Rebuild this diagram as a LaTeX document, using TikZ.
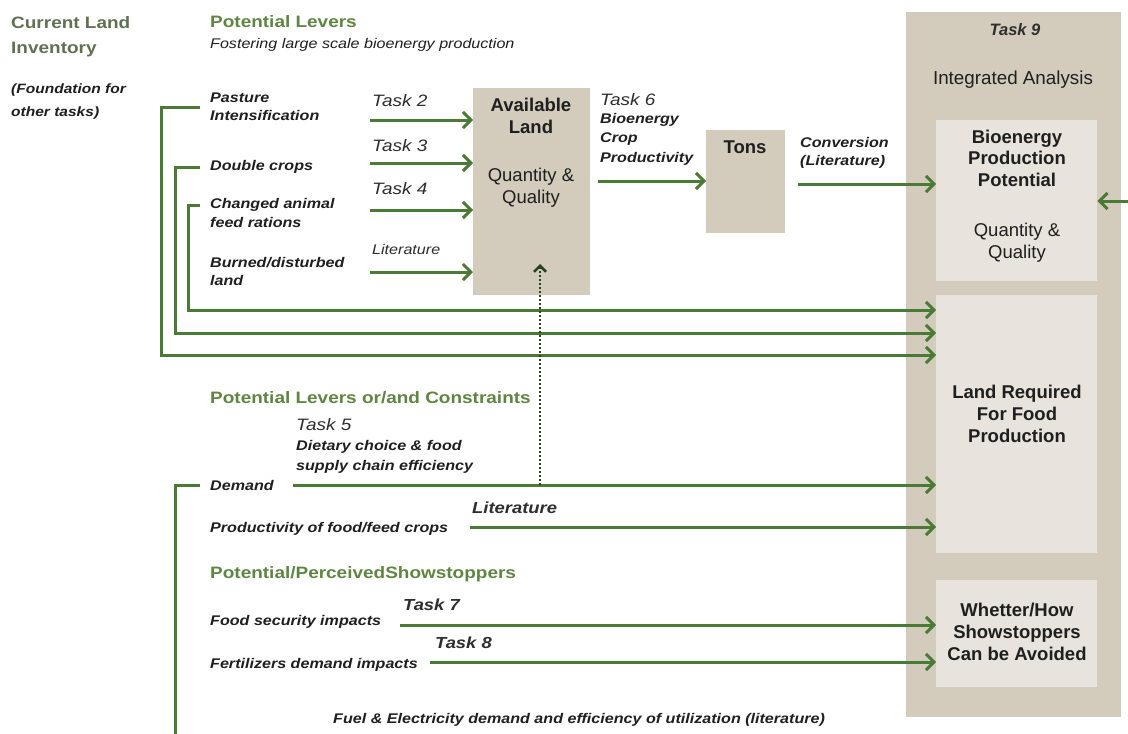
\documentclass[tikz,border=0pt]{standalone}
\usepackage{fontspec}
\setmainfont{Liberation Sans}
\newfontfamily\wide[FakeStretch=1.15]{Liberation Sans}
\usetikzlibrary{arrows.meta}
\definecolor{arrgreen}{HTML}{4A7A36}
\definecolor{hdrgreen}{HTML}{5E8642}
\definecolor{grgreen}{HTML}{5F7150}
\definecolor{tanbox}{HTML}{D3CCBD}
\definecolor{palebox}{HTML}{E8E3DC}
\definecolor{ink}{HTML}{1F1F1F}
\definecolor{taskink}{HTML}{2E2E2E}
\begin{document}
\begin{tikzpicture}[x=1pt,y=-1pt,
  arr/.style={draw=arrgreen, line width=3pt, -{Straight Barb[length=8pt,width=16pt]}},
  larr/.style={draw=arrgreen, line width=3pt, {Straight Barb[length=8pt,width=16pt]}-},
  brk/.style={draw=arrgreen, line width=3pt},
  dotarr/.style={draw=arrgreen!55!black, line width=2.5pt, dash pattern=on 2pt off 2pt, -{Straight Barb[length=6pt,width=12pt]}},
  bigbox/.style={fill=tanbox, draw=none, anchor=north west, inner sep=0},
  tanrect/.style={fill=tanbox, draw=none, anchor=north west, inner sep=0},
  inbox/.style={fill=palebox, draw=none, anchor=north west, inner sep=0},
  hdr/.style={font=\wide\bfseries\fontsize{16.5}{25}\selectfont, text=hdrgreen, inner sep=0, anchor=base west, align=left},
  lab/.style={font=\wide\bfseries\itshape\fontsize{14}{18.5}\selectfont, text=ink, inner sep=0, anchor=base west, align=left},
  task/.style={font=\wide\itshape\fontsize{16.5}{19}\selectfont, text=taskink, inner sep=0, anchor=base west},
  btask/.style={font=\wide\bfseries\itshape\fontsize{16}{19}\selectfont, text=taskink, inner sep=0, anchor=base west},
  lit/.style={font=\wide\itshape\fontsize{14}{19}\selectfont, text=taskink, inner sep=0, anchor=base west},
  btitle/.style={font=\bfseries\fontsize{18.5}{21.7}\selectfont, text=ink, inner sep=0, anchor=base, align=center},
  bsub/.style={font=\fontsize{18.5}{22.5}\selectfont, text=ink, inner sep=0, anchor=base, align=center}
]
\useasboundingbox (0,0) rectangle (1128,734);
\fill[white] (0,0) rectangle (1128,734);

% ---------- boxes ----------
\node[bigbox, minimum width=215, minimum height=705] (task9) at (906,12) {};
\node[inbox, minimum width=161, minimum height=161] (bio) at (936,120) {};
\node[inbox, minimum width=161, minimum height=258] (landreq) at (936,295) {};
\node[inbox, minimum width=161, minimum height=107] (whet) at (936,580) {};
\node[tanrect, minimum width=117, minimum height=207] (avail) at (473,88) {};
\node[tanrect, minimum width=79, minimum height=103] (tons) at (706,130) {};

% ---------- box texts (base = last line) ----------
\node[font=\bfseries\itshape\fontsize{16.5}{18}\selectfont, text=taskink, inner sep=0, anchor=base] (t9) at (1015,35) {Task 9};
\node[font=\fontsize{18.8}{20}\selectfont, text=ink, inner sep=0, anchor=base] (ia) at (1013,84) {Integrated Analysis};
\node[btitle] (biot) at (1017,186.4) {Bioenergy\\Production\\Potential};
\node[bsub] (bios) at (1017,258.5) {Quantity \&\\Quality};
\node[btitle] (lrt) at (1017,442) {Land Required\\For Food\\Production};
\node[btitle] (wht) at (1017,660) {Whetter/How\\Showstoppers\\Can be Avoided};
\node[btitle] (avt) at (531,133) {Available\\Land};
\node[bsub] (avs) at (531,203.5) {Quantity \&\\Quality};
\node[btitle] (tonst) at (745,153) {Tons};

% ---------- headers ----------
\node[hdr, text=grgreen] (cli) at (11,53) {Current Land\\Inventory};
\node[lab, font=\wide\bfseries\itshape\fontsize{13.5}{23}\selectfont] (found) at (11,116) {(Foundation for\\other tasks)};
\node[hdr] (pl) at (210,27) {Potential Levers};
\node[lab, font=\wide\itshape\fontsize{14}{15}\selectfont] (fost) at (210,48) {Fostering large scale bioenergy production};
\node[hdr] (plc) at (210,403) {Potential Levers or/and Constraints};
\node[hdr] (pps) at (210,578) {Potential/PerceivedShowstoppers};

% ---------- lever labels ----------
\node[lab] (past) at (210,120.5) {Pasture\\Intensification};
\node[lab] (dbl) at (210,170) {Double crops};
\node[lab] (cha) at (210,227) {Changed animal\\feed rations};
\node[lab] (bur) at (210,285.5) {Burned/disturbed\\land};
\node[task] (t2) at (372,106) {Task 2};
\node[task] (t3) at (372,151) {Task 3};
\node[task] (t4) at (372,194) {Task 4};
\node[lit] (lit1) at (372,254) {Literature};
\node[task] (t6) at (600,105) {Task 6};
\node[lab, font=\wide\bfseries\itshape\fontsize{14}{19.5}\selectfont] (bcp) at (600,162) {Bioenergy\\Crop\\Productivity};
\node[lab] (conv) at (800,165.5) {Conversion\\(Literature)};

\node[task] (t5) at (296,430) {Task 5};
\node[lab, font=\wide\bfseries\itshape\fontsize{14}{20}\selectfont] (diet) at (296,470) {Dietary choice \& food\\supply chain efficiency};
\node[lab] (dem) at (210,490) {Demand};
\node[btask] (lit2) at (472,513) {Literature};
\node[lab] (prod) at (210,532) {Productivity of food/feed crops};
\node[btask] (t7) at (403,610) {Task 7};
\node[lab] (food) at (210,625) {Food security impacts};
\node[btask] (t8) at (435,648) {Task 8};
\node[lab] (fert) at (210,668) {Fertilizers demand impacts};
\node[lab] (fuel) at (333,723) {Fuel \& Electricity demand and efficiency of utilization (literature)};

% ---------- coordinates ----------
\coordinate (a2) at (370,120);
\coordinate (a3) at (370,163);
\coordinate (a4) at (370,210);
\coordinate (a5) at (370,272);
\coordinate (a6) at (598,181);
\coordinate (a7) at (798,184);
\coordinate (rin) at (1128,201);
\coordinate (b1) at (200,107);
\coordinate (b1c) at (161,107);
\coordinate (b1d) at (161,355);
\coordinate (b2) at (200,167);
\coordinate (b2c) at (175,167);
\coordinate (b2d) at (175,333);
\coordinate (b3) at (200,205);
\coordinate (b3c) at (188,205);
\coordinate (b3d) at (188,310);
\coordinate (b4) at (200,485);
\coordinate (b4c) at (175,485);
\coordinate (b4d) at (175,734);
\coordinate (dm) at (293,485);
\coordinate (pr) at (470,527);
\coordinate (fs) at (400,625);
\coordinate (fd) at (430,662);
\coordinate (dot0) at (540,485);
\coordinate (dot1) at (540,264);

% ---------- arrows ----------
\draw[arr] (a2) -- (avail.west |- a2);
\draw[arr] (a3) -- (avail.west |- a3);
\draw[arr] (a4) -- (avail.west |- a4);
\draw[arr] (a5) -- (avail.west |- a5);
\draw[arr] (a6) -- (tons.west |- a6);
\draw[arr] (a7) -- (bio.west |- a7);
\draw[larr] (bio.east |- rin) -- (rin);

\draw[arr] (b1) -- (b1c) -- (b1d) -- (landreq.west |- b1d);
\draw[arr] (b2) -- (b2c) -- (b2d) -- (landreq.west |- b2d);
\draw[arr] (b3) -- (b3c) -- (b3d) -- (landreq.west |- b3d);
\draw[brk] (b4) -- (b4c) -- (b4d);

\draw[arr] (dm) -- (landreq.west |- dm);
\draw[arr] (pr) -- (landreq.west |- pr);
\draw[arr] (fs) -- (whet.west |- fs);
\draw[arr] (fd) -- (whet.west |- fd);
\draw[dotarr] (dot0) -- (dot1);
\end{tikzpicture}
\end{document}
